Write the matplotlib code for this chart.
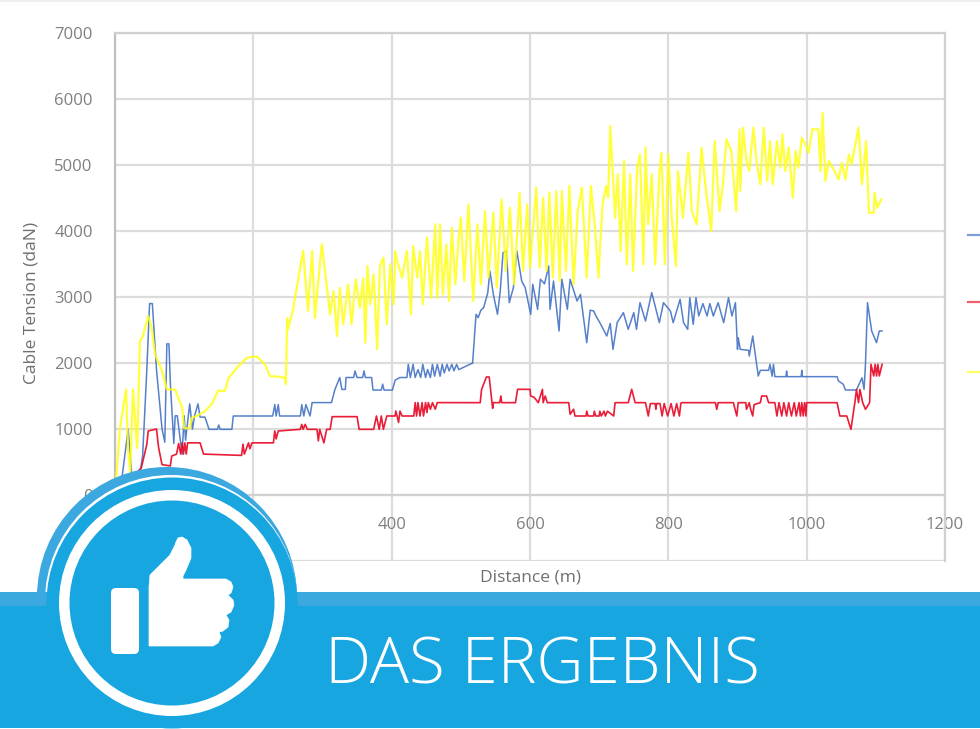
import matplotlib
matplotlib.use("Agg")
import matplotlib.pyplot as plt
from matplotlib.lines import Line2D
from matplotlib.patches import Circle, FancyBboxPatch, PathPatch, Rectangle
from matplotlib.path import Path

plt.rcParams["font.family"] = ["Open Sans", "DejaVu Sans"]

yellow_x = [0, 7, 16, 19, 22, 26, 32, 36, 40, 48, 53, 58, 68, 75, 87, 97, 100, 108, 111, 119, 130, 140, 149, 159,
            164, 178, 191, 205, 217, 224, 239, 246, 247, 249, 250, 257, 272, 279, 285, 289, 299, 307, 311, 316,
            321, 325, 330, 337, 342, 348, 354, 359, 362, 365, 369, 374, 379, 383, 388, 393, 398, 403, 405, 408,
            415, 422, 428, 431, 437, 441, 445, 451, 457, 463, 466, 470, 474, 479, 483, 487, 492, 497, 500, 505,
            511, 518, 524, 529, 535, 540, 547, 552, 559, 565, 571, 577, 585, 590, 596, 600, 609, 614, 619, 624,
            628, 633, 638, 643, 646, 652, 657, 663, 669, 675, 682, 688, 694, 699, 701, 705, 710, 713, 716, 723,
            727, 731, 736, 740, 745, 749, 755, 759, 764, 767, 771, 776, 781, 787, 790, 795, 800, 805, 811, 814,
            821, 829, 834, 841, 848, 855, 862, 867, 874, 879, 884, 891, 898, 903, 904, 908, 913, 917, 923, 928,
            933, 938, 943, 947, 951, 957, 962, 965, 969, 974, 980, 984, 988, 993, 998, 1003, 1008, 1017, 1020,
            1023, 1027, 1032, 1039, 1046, 1051, 1056, 1061, 1065, 1075, 1080, 1086, 1090, 1097, 1098, 1102, 1108]
yellow_y = [0, 1000, 1600, 670, 350, 1600, 710, 2330, 2400, 2710, 2530, 2130, 1880, 1600, 1600, 1320, 1010, 1010,
            1170, 1200, 1270, 1380, 1580, 1580, 1770, 1950, 2080, 2100, 1980, 1800, 1790, 1770, 1680, 2680, 2510,
            2790, 3700, 2790, 3700, 2680, 3800, 3090, 2737, 3090, 2409, 3141, 2586, 3192, 2586, 3267, 2838, 3288,
            2308, 3470, 2889, 3344, 2207, 3470, 3595, 2586, 3495, 2889, 3697, 3545, 3292, 3697, 2737, 3772, 3292,
            3697, 2889, 3899, 2989, 4100, 2989, 4101, 3040, 3798, 2940, 4050, 3192, 3899, 4202, 3243, 4404, 2940,
            4101, 3192, 4303, 3293, 4278, 3142, 4480, 3394, 4353, 3192, 4581, 3394, 4404, 3444, 4656, 3444, 4505,
            3394, 4581, 3293, 4606, 3243, 4606, 3394, 4682, 3192, 4303, 4656, 3293, 4682, 4050, 3293, 3697, 4404,
            4682, 4505, 5591, 4202, 4859, 3697, 5060, 3495, 4859, 3394, 4960, 5162, 3495, 5262, 4101, 4859, 3495,
            4859, 5187, 3495, 5162, 4202, 3470, 4909, 4202, 5187, 4303, 4101, 5262, 4555, 3998, 5363, 4303, 4707,
            5389, 5212, 4303, 5540, 4606, 5565, 5060, 4909, 5565, 5010, 4707, 5565, 4757, 5363, 4707, 5363, 4959,
            5464, 4909, 5262, 4505, 5212, 4959, 5413, 5312, 5186, 5540, 5540, 4909, 5792, 4757, 5060, 4934, 4782,
            5035, 4782, 5161, 5010, 5565, 4707, 5363, 4277, 4277, 4580, 4353, 4480]

blue_x = [0, 10, 19, 25, 35, 40, 46, 50, 54, 60, 68, 72, 75, 78, 80, 85, 87, 90, 97, 100, 102, 108, 112, 115, 120,
          123, 130, 136, 148, 150, 152, 169, 171, 228, 231, 233, 236, 238, 268, 270, 273, 276, 282, 285, 313, 318,
          325, 328, 333, 334, 345, 347, 350, 358, 360, 362, 371, 373, 385, 387, 389, 401, 405, 412, 422, 424, 427,
          431, 434, 438, 442, 445, 449, 452, 456, 459, 462, 466, 470, 473, 476, 480, 483, 487, 490, 494, 497, 516,
          517, 522, 525, 529, 533, 539, 542, 547, 553, 557, 561, 566, 570, 576, 581, 588, 593, 601, 604, 611, 615,
          621, 627, 629, 634, 642, 646, 654, 658, 668, 673, 682, 687, 692, 696, 701, 711, 716, 720, 726, 735, 742,
          750, 754, 759, 767, 776, 787, 793, 803, 807, 817, 822, 828, 831, 836, 840, 844, 850, 856, 860, 865, 872,
          880, 887, 892, 897, 900, 901, 904, 916, 917, 922, 927, 930, 933, 945, 947, 950, 952, 954, 970, 971, 972,
          992, 993, 994, 1044, 1046, 1053, 1056, 1072, 1080, 1083, 1085, 1088, 1094, 1097, 1101, 1105, 1109]
blue_y = [50, 250, 1000, 200, 250, 600, 1900, 2900, 2900, 1900, 1000, 800, 2290, 2290, 1700, 780, 1200, 1200, 620,
          1200, 830, 1380, 1000, 1200, 1380, 1180, 1180, 995, 995, 1060, 995, 995, 1197, 1197, 1370, 1197, 1370,
          1197, 1197, 1370, 1197, 1370, 1197, 1400, 1400, 1600, 1780, 1600, 1600, 1780, 1780, 1880, 1780, 1780,
          1880, 1780, 1780, 1590, 1590, 1680, 1590, 1590, 1740, 1780, 1780, 1980, 1780, 1980, 1780, 1900, 1780,
          1980, 1780, 1900, 1780, 1980, 1800, 1980, 1800, 1980, 1850, 1980, 1880, 1980, 1880, 1980, 1900, 1995,
          1995, 2738, 2687, 2800, 2839, 3066, 3394, 3040, 2738, 3091, 3672, 3697, 2914, 3142, 3697, 3242, 3142,
          2738, 3192, 2813, 3268, 3200, 3470, 2813, 3242, 2485, 3268, 2813, 3268, 2939, 3040, 2308, 2800, 2788,
          2700, 2611, 2409, 2600, 2207, 2611, 2763, 2510, 2763, 2510, 2914, 2636, 3066, 2611, 2914, 2788, 2611,
          2965, 2611, 2510, 2990, 2585, 2990, 2712, 2900, 2712, 2900, 2712, 2914, 2611, 2990, 2712, 2914, 2207,
          2383, 2207, 2192, 2106, 2409, 2030, 1803, 1889, 1889, 1980, 1800, 1980, 1793, 1793, 1879, 1793, 1793,
          1889, 1793, 1793, 1727, 1677, 1591, 1591, 1777, 1600, 1980, 2914, 2485, 2409, 2308, 2485, 2485]

red_x = [0, 38, 46, 48, 60, 63, 68, 80, 82, 89,
         92, 95, 97, 99, 101, 103, 105, 123, 128, 183,
         185, 187, 193, 195, 198, 229, 231, 233, 236, 268,
         270, 272, 275, 278, 292, 294, 296, 302, 306, 311,
         314, 350, 353, 374, 378, 382, 385, 388, 393, 405,
         406, 410, 412, 415, 432, 434, 436, 438, 441, 444,
         446, 449, 451, 453, 456, 459, 463, 466, 470, 528,
         530, 537, 541, 546, 547, 556, 558, 559, 579, 582,
         600, 601, 606, 612, 618, 619, 622, 625, 641, 656,
         658, 663, 665, 681, 682, 684, 692, 693, 695, 700,
         701, 703, 707, 709, 712, 721, 723, 742, 747, 752,
         767, 771, 774, 781, 782, 783, 788, 791, 794, 799,
         804, 808, 812, 816, 818, 819, 868, 870, 872, 894,
         899, 901, 912, 913, 917, 919, 922, 924, 933, 935,
         942, 945, 954, 957, 960, 964, 967, 971, 974, 978,
         982, 985, 989, 991, 993, 995, 997, 999, 1000, 1044,
         1048, 1058, 1064, 1070, 1072, 1075, 1077, 1081, 1085, 1091,
         1093, 1097, 1099, 1101, 1103, 1105, 1109]
red_y = [0, 410, 767, 970, 1000, 720, 460, 440, 590, 620,
         780, 620, 790, 620, 790, 620, 790, 790, 620, 600,
         770, 620, 790, 700, 790, 790, 970, 850, 970, 995,
         1070, 995, 1070, 995, 995, 820, 995, 790, 995, 995,
         1187, 1187, 995, 995, 1197, 995, 1197, 995, 1197, 1197,
         1272, 1100, 1272, 1197, 1197, 1400, 1197, 1400, 1197, 1400,
         1197, 1400, 1250, 1400, 1300, 1400, 1300, 1400, 1400, 1399,
         1601, 1788, 1788, 1313, 1399, 1399, 1500, 1399, 1399, 1601,
         1601, 1500, 1480, 1399, 1601, 1399, 1500, 1399, 1399, 1399,
         1223, 1300, 1197, 1197, 1270, 1197, 1197, 1270, 1197, 1197,
         1270, 1197, 1270, 1197, 1270, 1197, 1399, 1399, 1601, 1399,
         1399, 1197, 1385, 1385, 1300, 1385, 1385, 1197, 1385, 1197,
         1385, 1197, 1385, 1197, 1385, 1399, 1399, 1298, 1399, 1399,
         1197, 1399, 1399, 1298, 1399, 1298, 1197, 1370, 1399, 1500,
         1500, 1399, 1399, 1197, 1399, 1197, 1399, 1197, 1399, 1197,
         1399, 1197, 1399, 1197, 1399, 1197, 1399, 1197, 1399, 1399,
         1197, 1197, 995, 1424, 1600, 1399, 1600, 1399, 1298, 1399,
         1980, 1803, 1980, 1803, 1980, 1803, 1980]

x_ticks = [0, 200, 400, 600, 800, 1000, 1200]
y_ticks = [-1000, 0, 1000, 2000, 3000, 4000, 5000, 6000, 7000]
y_labels = ["", "0", "1000", "2000", "3000", "4000", "5000", "6000", "7000"]

W, H = 980, 729
fig = plt.figure(figsize=(W / 100, H / 100), dpi=100)
ax = fig.add_axes([115 / W, 1 - 561 / H, 830 / W, 528 / H])

ax.plot(blue_x, blue_y, color="#4472C4", lw=1.1, alpha=0.9, zorder=3)
ax.plot(red_x, red_y, color="#E8112D", lw=1.2, alpha=0.95, zorder=3)
ax.plot(yellow_x, yellow_y, color="#FFFF1A", lw=1.6, alpha=0.85, zorder=4)

ax.set_xlim(0, 1200)
ax.set_ylim(-1000, 7000)
ax.set_xticks(x_ticks)
ax.set_yticks(y_ticks)
ax.set_yticklabels(y_labels)
ax.grid(True, color="#dcdcdc", lw=1.6)
ax.set_axisbelow(True)
ax.tick_params(length=0, labelsize=12, labelcolor="#7f7f7f")
ax.tick_params(axis="x", pad=16)
ax.tick_params(axis="y", pad=16)
for name, spine in ax.spines.items():
    spine.set_color("#d0d0d0")
    spine.set_linewidth(1.6)
ax.spines["bottom"].set_position(("data", 0))
ax.spines["left"].set_color("#c0c0c0")

fig.text(32 / W, 1 - 303 / H, "Cable Tension (daN)", rotation=90, ha="center", va="center",
         fontsize=12.5, color="#6f6f6f")
fig.text(530 / W, 1 - 577 / H, "Distance (m)", ha="center", va="center", fontsize=12.5, color="#6f6f6f")

# overlay in pixel coordinates for the banner and badge
ov = fig.add_axes([0, 0, 1, 1], zorder=10)
ov.set_xlim(0, W)
ov.set_ylim(H, 0)
ov.axis("off")
ov.patch.set_alpha(0)

for y, c in [(235, "#7f9fd8"), (302, "#f0606f"), (372, "#ffff66")]:
    ov.add_line(Line2D([968, 980], [y, y], color=c, lw=1.6))
ov.add_patch(Rectangle((0, 0), W, 2, color="#eeeeee", lw=0))

DARK = "#18A6E0"
LIGHT = "#3BA8DF"
ov.add_patch(Circle((167, 597), 130, color=LIGHT, lw=0))
ov.add_patch(Circle((171, 601), 126, color="white", lw=0))
ov.add_patch(Rectangle((0, 592), W, 14, color=LIGHT, lw=0))
ov.add_patch(Rectangle((0, 606), W, 122, color=DARK, lw=0))
ov.add_patch(Circle((172, 603), 125.5, color=DARK, lw=0))
ov.add_patch(Circle((172, 603), 113, color="white", lw=0))
ov.add_patch(Circle((172, 603), 102.5, color=DARK, lw=0))

ov.add_patch(FancyBboxPatch((114, 591), 22, 60, boxstyle="round,pad=3,rounding_size=5", color="white", lw=0))
hand = [(149, 646), (149, 587), (150, 575), (160, 565), (170, 555), (175, 545), (176, 542), (178, 538), (182, 537),
        (187, 540), (191, 548), (191, 558), (186, 570), (183, 576), (183, 579), (226, 579), (231, 582), (233, 587),
        (231, 593), (228, 595), (233, 600), (234, 605), (231, 612), (226, 615), (229, 620), (228, 627), (223, 631),
        (219, 632), (221, 637), (218, 643), (213, 646), (149, 646)]
codes = [Path.MOVETO] + [Path.LINETO] * (len(hand) - 1)
ov.add_patch(PathPatch(Path(hand, codes), facecolor="white", edgecolor="white", lw=0.5, joinstyle="round"))

ov.text(325, 667, "DAS ERGEBNIS", color="white", fontsize=47, ha="left", va="center", fontweight="light")

fig.savefig("out.png", dpi=100)
